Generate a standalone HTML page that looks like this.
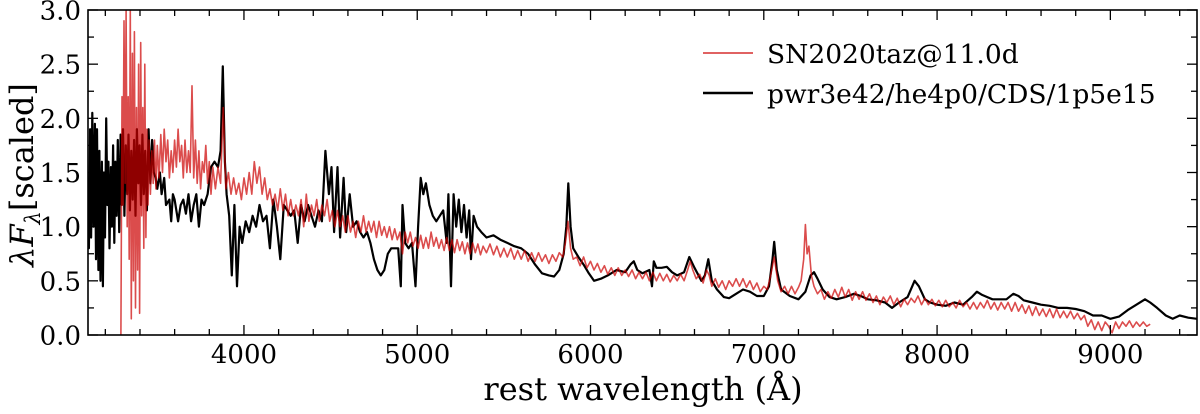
<!DOCTYPE html>
<html><head><meta charset="utf-8"><style>
html,body{margin:0;padding:0;background:#fff;}
svg{display:block;font-family:"DejaVu Serif","Liberation Serif",serif;}
</style></head><body>
<svg id="chart" width="1200" height="414" viewBox="0 0 1200 414" xmlns="http://www.w3.org/2000/svg">
<g id="plot"></g>
<g id="axes"></g>
<g>
<line x1="703" y1="53" x2="753" y2="53" stroke="rgba(204,0,0,0.7)" stroke-width="1.8"/>
<text x="767" y="63" font-size="26.5">SN2020taz@11.0d</text>
<line x1="703" y1="93" x2="753" y2="93" stroke="#000" stroke-width="2.4"/>
<text x="767" y="103" font-size="26.5">pwr3e42/he4p0/CDS/1p5e15</text>
</g>
<text x="643" y="400" font-size="32" text-anchor="middle">rest wavelength (Å)</text>
<text transform="translate(33,175) rotate(-90)" font-size="32" text-anchor="middle"><tspan font-style="italic">λF</tspan><tspan font-style="italic" font-size="21" dy="7">λ</tspan><tspan dy="-7">[scaled]</tspan></text>
</svg>
<script>
const xTicks=[4000,5000,6000,7000,8000,9000];
const yTicks=[0.0,0.5,1.0,1.5,2.0,2.5,3.0];
const modelW=[3100,3105,3112,3118,3125,3132,3140,3146,3152,3160,3166,3172,3180,3186,3192,3198,3205,3212,3218,3224,3232,3238,3245,3252,3258,3265,3272,3280,3288,3295,3302,3310,3318,3326,3334,3342,3350,3358,3366,3374,3382,3390,3398,3406,3414,3422,3430,3440,3450,3460,3470,3480,3490,3500,3515,3525,3540,3550,3570,3580,3590,3600,3620,3635,3650,3665,3680,3695,3710,3725,3740,3755,3770,3790,3810,3830,3850,3865,3878,3890,3900,3915,3930,3945,3960,3975,3990,4010,4030,4050,4070,4090,4110,4130,4150,4170,4190,4210,4230,4250,4270,4290,4310,4330,4350,4370,4390,4410,4430,4450,4470,4490,4505,4520,4540,4555,4575,4590,4610,4630,4650,4670,4690,4710,4730,4750,4770,4790,4810,4830,4850,4870,4890,4905,4915,4930,4950,4970,4990,5005,5020,5035,5050,5070,5090,5110,5130,5150,5170,5180,5195,5210,5225,5240,5255,5270,5285,5300,5310,5325,5345,5370,5400,5440,5480,5520,5560,5600,5640,5680,5720,5760,5790,5820,5845,5860,5872,5885,5900,5930,5960,5990,6020,6060,6100,6150,6200,6230,6250,6270,6300,6340,6355,6365,6380,6410,6440,6470,6500,6540,6570,6600,6640,6660,6680,6700,6730,6770,6800,6840,6880,6920,6960,7000,7030,7050,7060,7075,7100,7150,7200,7240,7270,7290,7310,7340,7380,7420,7470,7520,7560,7600,7650,7700,7740,7780,7830,7870,7895,7930,7960,8000,8050,8100,8150,8200,8230,8260,8290,8320,8360,8400,8440,8470,8500,8550,8600,8650,8700,8750,8800,8850,8900,8950,9000,9050,9100,9150,9200,9230,9270,9320,9360,9400,9450,9500];
const modelF=[1.3,0.8,1.9,0.9,2.05,1.0,1.95,0.7,1.9,0.6,1.7,0.5,1.6,0.45,1.5,0.9,2.0,1.2,1.6,0.8,1.55,1.0,1.75,0.85,1.6,1.1,1.8,0.95,1.85,1.2,1.9,1.1,1.75,1.3,1.85,1.15,1.7,1.25,1.8,1.1,1.9,1.4,1.75,1.2,1.85,1.3,1.7,1.15,1.9,1.4,1.8,1.5,1.45,1.35,1.5,1.3,1.45,1.2,1.25,1.05,1.3,1.25,1.05,1.2,1.25,1.12,1.3,1.05,1.2,1.3,1.0,1.25,1.2,1.3,1.55,1.6,1.55,1.7,2.48,1.6,1.3,1.1,0.55,1.2,0.45,1.0,0.85,1.05,0.95,1.1,1.0,1.2,1.05,1.1,0.8,1.25,1.0,0.7,1.2,1.15,1.1,1.15,0.85,1.2,1.05,1.2,1.1,1.0,1.15,1.05,1.7,1.3,1.55,0.95,1.55,0.9,1.45,0.95,1.3,1.0,1.05,0.95,0.9,0.95,0.85,0.7,0.6,0.55,0.6,0.75,0.8,0.8,0.8,0.45,1.2,0.85,0.8,0.85,0.45,1.0,1.45,1.3,1.4,1.2,1.1,1.05,1.1,1.15,0.85,1.3,0.45,1.3,1.0,1.25,0.95,1.2,0.9,1.15,0.7,1.1,1.0,0.95,0.9,0.92,0.88,0.85,0.82,0.8,0.75,0.65,0.57,0.55,0.54,0.6,0.75,1.0,1.4,1.0,0.8,0.72,0.65,0.57,0.5,0.52,0.55,0.6,0.58,0.65,0.68,0.6,0.57,0.6,0.45,0.68,0.62,0.62,0.63,0.58,0.55,0.58,0.72,0.62,0.5,0.55,0.7,0.5,0.42,0.35,0.34,0.38,0.42,0.4,0.36,0.36,0.45,0.7,0.86,0.6,0.42,0.36,0.33,0.4,0.55,0.58,0.52,0.42,0.35,0.33,0.35,0.38,0.36,0.33,0.32,0.3,0.25,0.3,0.35,0.5,0.45,0.33,0.3,0.28,0.27,0.3,0.28,0.35,0.4,0.37,0.35,0.33,0.33,0.33,0.38,0.36,0.32,0.3,0.28,0.27,0.25,0.25,0.24,0.22,0.18,0.18,0.15,0.17,0.23,0.28,0.33,0.3,0.25,0.18,0.15,0.18,0.16,0.15];
const obsW=[3290,3296,3302,3308,3314,3320,3326,3332,3338,3344,3350,3356,3362,3368,3374,3380,3386,3392,3398,3404,3410,3416,3422,3428,3434,3440,3446,3452,3460,3468,3476,3484,3492,3500,3510,3520,3530,3540,3550,3560,3570,3580,3590,3600,3610,3620,3630,3640,3650,3660,3670,3680,3690,3700,3710,3720,3730,3740,3750,3760,3770,3780,3790,3800,3810,3820,3835,3850,3865,3880,3895,3910,3925,3940,3955,3970,3985,4000,4015,4030,4045,4060,4075,4090,4105,4120,4135,4150,4165,4180,4195,4210,4225,4240,4255,4270,4285,4300,4315,4330,4345,4360,4375,4390,4405,4420,4435,4450,4465,4480,4495,4510,4525,4540,4555,4570,4585,4600,4615,4630,4645,4660,4675,4690,4705,4720,4735,4750,4765,4780,4795,4810,4825,4840,4855,4870,4885,4900,4915,4930,4945,4960,4975,4990,5005,5020,5035,5050,5065,5080,5095,5110,5125,5140,5155,5170,5185,5200,5215,5230,5245,5260,5275,5290,5305,5320,5335,5350,5365,5380,5400,5420,5440,5460,5480,5500,5520,5540,5560,5580,5600,5620,5640,5660,5680,5700,5720,5740,5760,5780,5800,5820,5840,5855,5870,5885,5900,5920,5940,5960,5980,6000,6020,6040,6060,6080,6100,6120,6140,6160,6180,6200,6220,6240,6260,6280,6300,6320,6340,6360,6380,6400,6420,6440,6460,6480,6500,6520,6540,6560,6575,6590,6610,6630,6650,6670,6685,6700,6720,6740,6760,6780,6800,6820,6840,6860,6880,6900,6920,6940,6960,6980,7000,7020,7040,7060,7080,7100,7120,7140,7160,7180,7200,7215,7230,7240,7250,7260,7275,7290,7310,7330,7350,7370,7390,7410,7430,7450,7470,7490,7510,7530,7550,7570,7590,7610,7630,7650,7670,7690,7710,7730,7750,7770,7790,7810,7830,7850,7870,7890,7910,7930,7950,7970,7990,8010,8030,8050,8070,8090,8110,8130,8150,8170,8190,8210,8230,8250,8270,8290,8310,8330,8350,8370,8390,8410,8430,8450,8470,8490,8510,8530,8550,8570,8590,8610,8630,8650,8670,8690,8710,8730,8750,8770,8790,8810,8830,8850,8870,8890,8910,8930,8950,8970,8990,9010,9030,9050,9070,9090,9110,9130,9150,9170,9190,9210,9230];
const obsF=[0.0,2.2,1.2,2.9,1.4,3.0,1.0,2.2,0.7,3.0,0.15,2.6,0.5,2.8,0.25,2.1,0.6,2.5,0.2,2.7,1.1,2.1,0.8,2.5,0.9,1.9,1.2,1.8,1.3,1.7,1.4,1.8,1.35,1.75,1.45,1.85,1.5,1.9,1.6,1.8,1.45,1.7,1.5,1.8,1.55,1.9,1.6,1.75,1.45,1.8,1.5,1.7,1.5,2.3,1.45,1.8,1.4,1.7,1.35,1.6,1.5,1.75,1.4,1.6,1.3,1.55,1.35,1.55,1.4,2.1,1.35,1.5,1.3,1.45,1.3,1.4,1.25,1.45,1.3,1.5,1.3,1.6,1.4,1.55,1.3,1.45,1.25,1.35,1.2,1.3,1.15,1.35,1.15,1.3,1.1,1.25,1.1,1.2,1.1,1.25,1.0,1.3,1.05,1.2,1.1,1.25,1.05,1.2,1.1,1.25,1.05,1.15,1.0,1.15,1.0,1.1,0.95,1.1,0.95,1.05,0.9,1.05,0.95,1.1,0.95,1.05,0.95,1.05,0.9,1.05,0.92,1.0,0.9,1.0,0.88,0.98,0.88,0.95,0.75,0.95,0.85,0.95,0.82,0.9,0.8,0.92,0.8,0.9,0.8,0.95,0.82,0.9,0.8,0.88,0.78,0.9,0.78,0.88,0.76,0.88,0.78,0.86,0.75,0.85,0.75,0.85,0.76,0.84,0.74,0.82,0.76,0.84,0.74,0.82,0.72,0.8,0.72,0.8,0.7,0.78,0.7,0.78,0.68,0.76,0.68,0.76,0.68,0.74,0.66,0.74,0.68,0.76,0.72,0.85,1.05,0.8,0.7,0.72,0.64,0.72,0.62,0.68,0.6,0.66,0.58,0.64,0.56,0.62,0.55,0.62,0.55,0.6,0.54,0.6,0.52,0.58,0.52,0.58,0.5,0.58,0.5,0.57,0.5,0.56,0.49,0.55,0.5,0.56,0.5,0.6,0.68,0.6,0.52,0.56,0.48,0.6,0.55,0.45,0.52,0.44,0.5,0.42,0.5,0.45,0.52,0.45,0.52,0.44,0.5,0.42,0.48,0.4,0.45,0.42,0.55,0.72,0.5,0.4,0.45,0.38,0.45,0.38,0.44,0.5,0.7,1.02,0.75,0.82,0.55,0.45,0.38,0.42,0.33,0.4,0.34,0.42,0.35,0.44,0.35,0.42,0.32,0.4,0.33,0.4,0.32,0.38,0.3,0.36,0.28,0.35,0.3,0.36,0.28,0.34,0.26,0.33,0.28,0.34,0.3,0.36,0.28,0.34,0.28,0.33,0.27,0.32,0.26,0.32,0.26,0.3,0.25,0.32,0.26,0.3,0.24,0.3,0.24,0.3,0.25,0.32,0.24,0.3,0.23,0.3,0.24,0.3,0.22,0.3,0.22,0.28,0.2,0.27,0.18,0.26,0.18,0.24,0.17,0.24,0.16,0.24,0.16,0.22,0.16,0.22,0.15,0.2,0.14,0.18,0.08,0.14,0.05,0.12,0.04,0.12,0.08,0.02,0.12,0.06,0.12,0.08,0.13,0.07,0.12,0.08,0.12,0.08,0.1];

const L=88,R=1197,T=10,B=335,X0=3100,X1=9500,Y0=0,Y1=3;
const xs=v=>L+(v-X0)/(X1-X0)*(R-L);
const ys=v=>B-(v-Y0)/(Y1-Y0)*(B-T);
const NS='http://www.w3.org/2000/svg';
function mk(tag,attrs,parent){const e=document.createElementNS(NS,tag);for(const k in attrs)e.setAttribute(k,attrs[k]);parent.appendChild(e);return e;}
const plot=document.getElementById('plot'),axes=document.getElementById('axes');
const clip=mk('clipPath',{id:'pc'},document.getElementById('chart'));
mk('rect',{x:L,y:T,width:R-L,height:B-T},clip);
plot.setAttribute('clip-path','url(#pc)');
function pathD(W,F){return W.map((w,i)=>(i?'L':'M')+xs(w).toFixed(1)+','+ys(F[i]).toFixed(1)).join('');}
const m=mk('path',{d:pathD(modelW,modelF),fill:'none',stroke:'#000','stroke-width':2.2,'stroke-linejoin':'round'},plot);


const o=mk('path',{d:pathD(obsW,obsF),fill:'none',stroke:'rgba(204,0,0,0.7)','stroke-width':1.6,'stroke-linejoin':'round'},plot);


const frame=mk('rect',{x:L,y:T,width:R-L,height:B-T,fill:'none',stroke:'#000','stroke-width':1.6},axes);


for(let w=3200;w<=9400;w+=200){const major=w%1000===0;const len=major?10:6;const x=xs(w);
mk('line',{x1:x,y1:B,x2:x,y2:B-len,stroke:'#000','stroke-width':1.3},axes);
mk('line',{x1:x,y1:T,x2:x,y2:T+len,stroke:'#000','stroke-width':1.3},axes);}
xTicks.forEach(v=>{const t=mk('text',{x:xs(v),y:B+28,'font-size':26,'text-anchor':'middle'},axes);t.textContent=String(v);

});
for(let k=0;k<=12;k++){const v=k*0.25;const major=k%2===0;const len=major?10:6;const y=ys(v);
mk('line',{x1:L,y1:y,x2:L+len,y2:y,stroke:'#000','stroke-width':1.3},axes);
mk('line',{x1:R,y1:y,x2:R-len,y2:y,stroke:'#000','stroke-width':1.3},axes);}
yTicks.forEach(v=>{const t=mk('text',{x:L-7,y:ys(v)+9.5,'font-size':26,'text-anchor':'end'},axes);t.textContent=v.toFixed(1);

});
</script>
</body></html>
